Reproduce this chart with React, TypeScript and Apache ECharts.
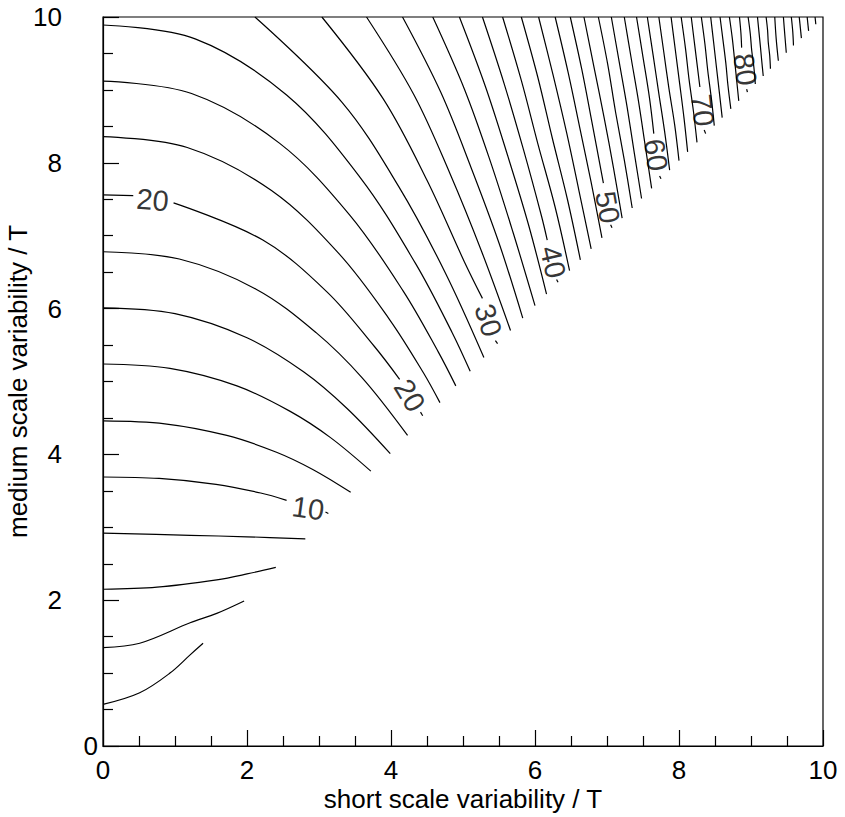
import React, { useEffect, useRef } from "react";
import * as echarts from "echarts";

type Pt = [number, number] | null;

// Axis ranges and tick spacing
const axisMin = 0;
const axisMax = 10;
const majorStep = 2;

// Contour lines, level step 2. null marks a gap left for a contour label.
const c02: Pt[] = [[0, 0.57], [0.51, 0.73], [0.93, 1.0], [1.21, 1.25], [1.39, 1.41]];
const c04: Pt[] = [[0, 1.35], [0.51, 1.41], [1.21, 1.69], [1.58, 1.82], [1.96, 1.99]];
const c06: Pt[] = [[0, 2.15], [0.75, 2.18], [1.58, 2.28], [2.0, 2.36], [2.4, 2.45]];
const c08: Pt[] = [[0, 2.92], [1.21, 2.89], [2.0, 2.87], [2.81, 2.84]];
const c10: Pt[] = [[0, 3.69], [0.78, 3.67], [1.57, 3.59], [2.19, 3.47], [2.55, 3.37], null, [3.09, 3.21], [3.13, 3.19]];
const c12: Pt[] = [[0, 4.46], [0.86, 4.42], [1.72, 4.26], [2.41, 4.03], [2.92, 3.79], [3.44, 3.48]];
const c14: Pt[] = [[0, 5.24], [0.93, 5.18], [1.86, 4.94], [2.6, 4.59], [3.16, 4.23], [3.72, 3.77]];
const c16: Pt[] = [[0, 6.01], [1.0, 5.93], [2.0, 5.6], [2.79, 5.13], [3.39, 4.63], [3.99, 4.01]];
const c18: Pt[] = [[0, 6.78], [1.06, 6.68], [2.12, 6.27], [2.96, 5.67], [3.6, 5.05], [4.23, 4.26]];
const c20: Pt[] = [[0, 7.56], [0.42, 7.55], null, [0.98, 7.45], [2.22, 6.94], [3.11, 6.23], [3.77, 5.48], [4.12, 5.03], null, [4.41, 4.58], [4.44, 4.53]];
const c22: Pt[] = [[0, 8.36], [1.17, 8.21], [2.34, 7.62], [3.28, 6.75], [3.98, 5.85], [4.45, 5.12], [4.68, 4.71]];
const c24: Pt[] = [[0, 9.12], [1.23, 8.95], [2.45, 8.27], [3.43, 7.28], [4.17, 6.24], [4.66, 5.4], [4.9, 4.94]];
const c26: Pt[] = [[0, 9.89], [1.28, 9.7], [2.55, 8.93], [3.57, 7.8], [4.34, 6.62], [4.85, 5.67], [5.1, 5.14]];
const c28: Pt[] = [[2.11, 10], [3.32, 8.83], [4.11, 7.67], [4.75, 6.5], [5.29, 5.33]];
const c30: Pt[] = [[3.04, 10], [3.89, 8.88], [4.5, 7.76], [5.02, 6.64], [5.27, 6.14], null, [5.45, 5.56], [5.48, 5.52]];
const c32: Pt[] = [[3.66, 10], [4.32, 8.93], [4.82, 7.85], [5.26, 6.78], [5.66, 5.7]];
const c34: Pt[] = [[4.16, 10], [4.69, 8.97], [5.11, 7.94], [5.5, 6.9], [5.83, 5.87]];
const c36: Pt[] = [[4.58, 10], [5.02, 9.01], [5.38, 8.02], [5.7, 7.03], [6.0, 6.04]];
const c38: Pt[] = [[4.95, 10], [5.31, 9.05], [5.62, 8.1], [5.91, 7.15], [6.16, 6.2]];
const c40: Pt[] = [[5.27, 10], [5.57, 9.09], [5.84, 8.18], [6.09, 7.27], [6.17, 6.94], null, [6.3, 6.4], [6.32, 6.36]];
const c42: Pt[] = [[5.55, 10], [5.81, 9.13], [6.04, 8.26], [6.28, 7.39], [6.48, 6.52]];
const c44: Pt[] = [[5.81, 10], [6.04, 9.17], [6.24, 8.34], [6.45, 7.5], [6.63, 6.67]];
const c46: Pt[] = [[6.05, 10], [6.25, 9.21], [6.44, 8.41], [6.61, 7.62], [6.78, 6.82]];
const c48: Pt[] = [[6.28, 10], [6.46, 9.24], [6.62, 8.49], [6.78, 7.73], [6.93, 6.97]];
const c50: Pt[] = [[6.49, 10], [6.65, 9.28], [6.79, 8.56], [6.95, 7.72], null, [7.05, 7.15], [7.07, 7.11]];
const c52: Pt[] = [[6.68, 10], [6.82, 9.31], [6.96, 8.62], [7.09, 7.93], [7.21, 7.24]];
const c54: Pt[] = [[6.88, 10], [7.01, 9.35], [7.12, 8.69], [7.24, 8.04], [7.35, 7.38]];
const c56: Pt[] = [[7.06, 10], [7.17, 9.38], [7.28, 8.76], [7.38, 8.13], [7.48, 7.51]];
const c58: Pt[] = [[7.24, 10], [7.34, 9.41], [7.44, 8.83], [7.53, 8.24], [7.62, 7.65]];
const c60: Pt[] = [[7.41, 10], [7.5, 9.45], [7.59, 8.89], [7.65, 8.4], null, [7.73, 7.82], [7.75, 7.78]];
const c62: Pt[] = [[7.56, 10], [7.64, 9.48], [7.72, 8.95], [7.8, 8.43], [7.87, 7.9]];
const c64: Pt[] = [[7.72, 10], [7.79, 9.51], [7.86, 9.02], [7.94, 8.52], [8.0, 8.03]];
const c66: Pt[] = [[7.89, 10], [7.95, 9.54], [8.01, 9.08], [8.07, 8.61], [8.12, 8.15]];
const c68: Pt[] = [[8.03, 10], [8.09, 9.57], [8.14, 9.14], [8.2, 8.71], [8.25, 8.28]];
const c70: Pt[] = [[8.17, 10], [8.22, 9.6], [8.29, 9.04], null, [8.35, 8.45], [8.37, 8.4]];
const c72: Pt[] = [[8.31, 10], [8.36, 9.63], [8.4, 9.26], [8.45, 8.88], [8.49, 8.51]];
const c74: Pt[] = [[8.44, 10], [8.48, 9.66], [8.52, 9.31], [8.56, 8.97], [8.6, 8.62]];
const c76: Pt[] = [[8.57, 10], [8.61, 9.69], [8.65, 9.37], [8.68, 9.06], [8.72, 8.74]];
const c78: Pt[] = [[8.7, 10], [8.74, 9.71], [8.77, 9.43], [8.8, 9.14], [8.83, 8.85]];
const c80: Pt[] = [[8.84, 10], [8.86, 9.78], [8.87, 9.58], null, [8.94, 9.01], [8.95, 8.97]];
const c82: Pt[] = [[8.96, 10], [8.99, 9.77], [9.01, 9.54], [9.04, 9.31], [9.06, 9.08]];
const c84: Pt[] = [[9.09, 10], [9.11, 9.8], [9.13, 9.6], [9.15, 9.39], [9.17, 9.19]];
const c86: Pt[] = [[9.21, 10], [9.23, 9.82], [9.24, 9.65], [9.26, 9.47], [9.27, 9.29]];
const c88: Pt[] = [[9.33, 10], [9.35, 9.7], [9.38, 9.4]];
const c90: Pt[] = [[9.45, 10], [9.47, 9.75], [9.49, 9.51]];
const c92: Pt[] = [[9.56, 10], [9.58, 9.8], [9.59, 9.61]];
const c94: Pt[] = [[9.67, 10], [9.7, 9.71]];
const c96: Pt[] = [[9.78, 10], [9.8, 9.81]];
const c98: Pt[] = [[9.89, 10], [9.9, 9.9]];

const contours: [number, Pt[]][] = [
  [2, c02], [4, c04], [6, c06], [8, c08], [10, c10], [12, c12], [14, c14],
  [16, c16], [18, c18], [20, c20], [22, c22], [24, c24], [26, c26], [28, c28],
  [30, c30], [32, c32], [34, c34], [36, c36], [38, c38], [40, c40], [42, c42],
  [44, c44], [46, c46], [48, c48], [50, c50], [52, c52], [54, c54], [56, c56],
  [58, c58], [60, c60], [62, c62], [64, c64], [66, c66], [68, c68], [70, c70],
  [72, c72], [74, c74], [76, c76], [78, c78], [80, c80], [82, c82], [84, c84],
  [86, c86], [88, c88], [90, c90], [92, c92], [94, c94], [96, c96], [98, c98],
];

// Contour labels: text, position in data units, text angle in degrees
const labelTexts = ["20", "10", "20", "30", "40", "50", "60", "70", "80"];
const labelX = [0.69, 2.85, 4.26, 5.35, 6.25, 7.01, 7.68, 8.33, 8.92];
const labelY = [7.49, 3.26, 4.81, 5.84, 6.64, 7.39, 8.11, 8.72, 9.28];
const labelAngle = [-5, -8, -59, -73, -77, -80, -82, -84, -83];

const FONT = "'Liberation Sans', Arial, Helvetica, sans-serif";

function splitAtGaps(pts: Pt[]): [number, number][][] {
  const out: [number, number][][] = [];
  let cur: [number, number][] = [];
  for (const p of pts) {
    if (p === null) {
      if (cur.length) out.push(cur);
      cur = [];
    } else {
      cur.push(p);
    }
  }
  if (cur.length) out.push(cur);
  return out;
}

export default function App() {
  const ref = useRef<HTMLDivElement>(null);

  useEffect(() => {
    document.body.style.margin = "0";
    if (!ref.current) return;
    const chart = echarts.init(ref.current, undefined, { renderer: "svg" });

    const lineSeries: any[] = [];
    contours.forEach(([level, pts]) => {
      splitAtGaps(pts).forEach((piece, i) => {
        lineSeries.push({
          name: `contour ${level}` + (i ? ` (${i})` : ""),
          type: "line",
          data: piece,
          showSymbol: false,
          smooth: 0.35,
          silent: true,
          lineStyle: { color: "#000", width: 1.2 },
          z: 2,
        });
      });
    });

    const labelSeries = {
      type: "scatter",
      symbolSize: 0,
      silent: true,
      z: 3,
      data: labelTexts.map((t, i) => ({
        value: [labelX[i], labelY[i]],
        label: {
          show: true,
          position: "inside",
          formatter: t,
          rotate: labelAngle[i],
          color: "#000",
          fontSize: 29,
          fontFamily: FONT,
        },
      })),
    };

    const axisCommon = {
      type: "value",
      min: axisMin,
      max: axisMax,
      interval: majorStep,
      axisLine: { show: true, lineStyle: { color: "#000", width: 1.2 } },
      axisTick: { show: true, inside: true, length: 16, lineStyle: { color: "#000", width: 1.2 } },
      minorTick: { show: true, splitNumber: 4, length: 10, lineStyle: { color: "#000", width: 1.2 } },
      splitLine: { show: false },
      minorSplitLine: { show: false },
      nameLocation: "middle",
      nameMoveOverlap: false,
      nameTextStyle: { color: "#000", fontSize: 26, fontFamily: FONT },
    };

    chart.setOption({
      animation: false,
      backgroundColor: "#fff",
      grid: {
        left: 103,
        right: 22,
        top: 17,
        bottom: 71,
        outerBoundsMode: "none",
        containLabel: false,
        show: true,
        borderColor: "#000",
        borderWidth: 1.2,
        backgroundColor: "transparent",
      },
      xAxis: {
        ...axisCommon,
        name: "short scale variability / T",
        nameGap: 40,
        axisLabel: { color: "#000", fontSize: 26, fontFamily: FONT, margin: 11 },
      },
      yAxis: {
        ...axisCommon,
        name: "medium scale variability / T",
        nameGap: 72,
        axisLabel: {
          color: "#000",
          fontSize: 26,
          fontFamily: FONT,
          margin: 5,
          formatter: (v: number) => (v === 0 ? "{z|0}" : `{n|${v}}`),
          rich: {
            z: { color: "#000", fontSize: 26, fontFamily: FONT },
            n: { color: "#000", fontSize: 26, fontFamily: FONT, padding: [0, 36, 0, 0] },
          },
        },
      },
      series: [...lineSeries, labelSeries],
    });

    return () => chart.dispose();
  }, []);

  return <div ref={ref} style={{ width: 845, height: 817 }} />;
}
